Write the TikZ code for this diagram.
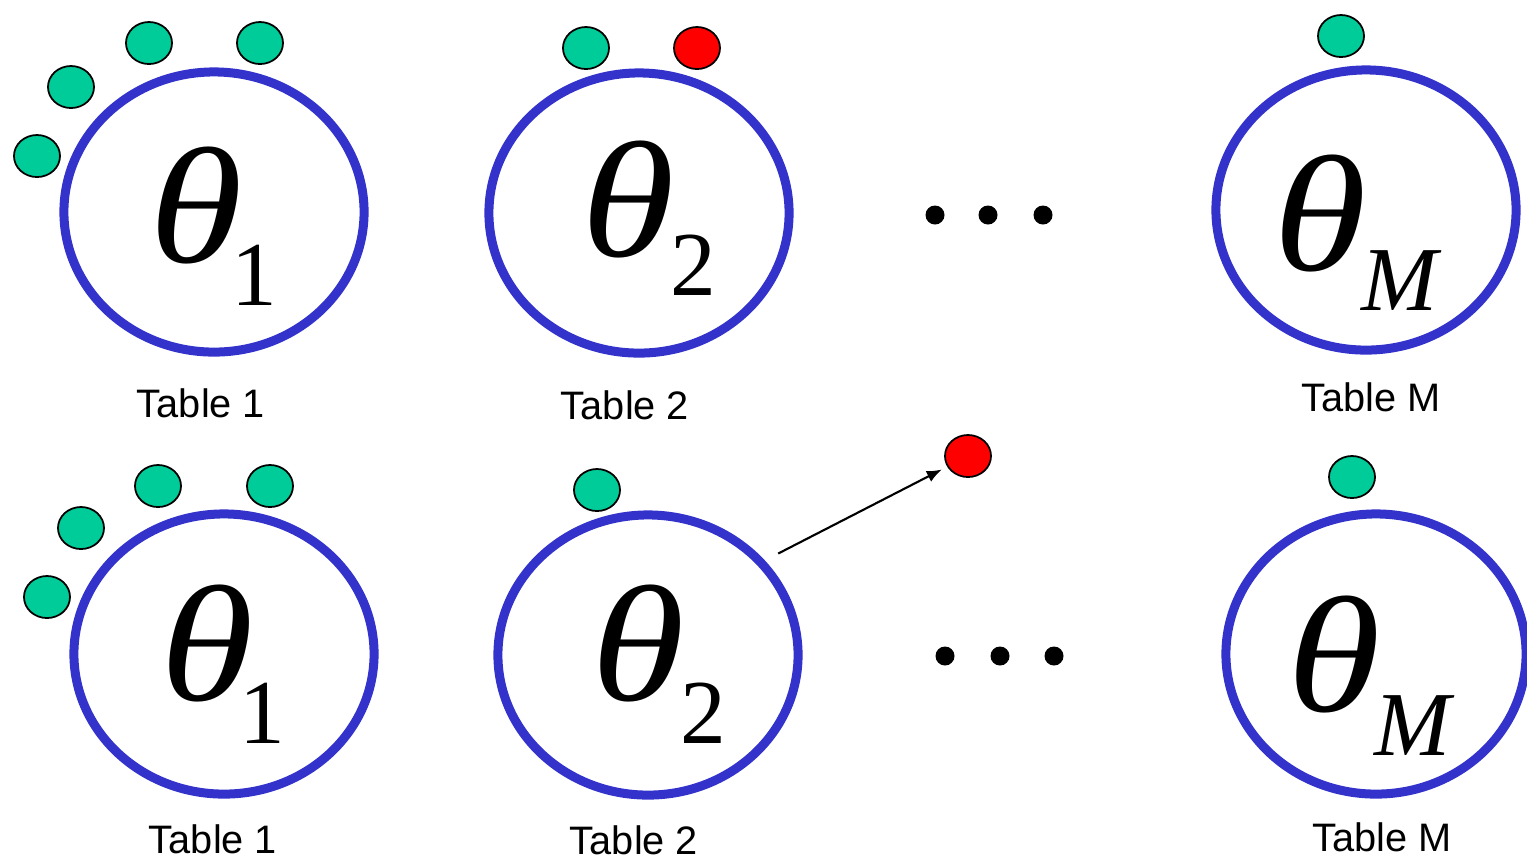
\documentclass[tikz,border=0pt]{standalone}
\usepackage{graphicx}
\usepackage{fontspec}
\setmainfont{Liberation Serif}
\newfontfamily\labfont{Liberation Sans}
\usetikzlibrary{shapes.geometric,arrows.meta}
\definecolor{tblue}{RGB}{51,51,204}
\definecolor{tgreen}{RGB}{0,204,153}
\definecolor{tred}{RGB}{255,0,0}
\newcommand{\wth}{\scalebox{1.15}[1]{θ}}
\tikzset{
  tab/.style={ellipse, draw=tblue, line width=0.09cm, minimum width=3.0cm, minimum height=2.8cm, inner sep=0},
  gdot/.style={ellipse, draw=black, line width=0.5pt, fill=tgreen, minimum width=0.46cm, minimum height=0.42cm, inner sep=0},
  rdot/.style={gdot, fill=tred},
  bdot/.style={circle, fill=black, minimum size=0.19cm, inner sep=0},
  th/.style={inner sep=0, anchor=base, text depth=0pt, font=\fontsize{47}{47}\selectfont\itshape},
  subr/.style={inner sep=0, anchor=base, text depth=0pt, font=\fontsize{26}{26}\selectfont},
  subi/.style={subr, font=\fontsize{26}{26}\selectfont\itshape},
  lab/.style={inner sep=0, anchor=base, text depth=0pt, font=\labfont\fontsize{11.3}{11.3}\selectfont},
  arr/.style={-{Latex[length=0.15cm,width=0.12cm]}, line width=0.6pt, shorten >=0.06cm, shorten <=0.15cm}
}
\begin{document}
\begin{tikzpicture}[x=0.01cm, y=-0.01cm]
\useasboundingbox (0,0) rectangle (1527,859);
% top row
\node[tab] (e1) at (214,212) {};
\node[tab] (e2) at (639,213) {};
\node[tab] (e3) at (1366,210) {};
% bottom row
\node[tab] (e4) at (224,654) {};
\node[tab] (e5) at (648,655) {};
\node[tab] (e6) at (1376,654) {};
% thetas top
\node[th] (t1) at (196,262) {\wth};
\node[subr] (s1) at (254,305) {1};
\node[th] (t2) at (628,256) {\wth};
\node[subr] (s2) at (693,295) {2};
\node[th] (t3) at (1320,270) {\wth};
\node[subi] (s3) at (1400,310) {M};
% thetas bottom
\node[th] (t4) at (207,700) {\wth};
\node[subr] (s4) at (262,743) {1};
\node[th] (t5) at (638,700) {\wth};
\node[subr] (s5) at (703,743) {2};
\node[th] (t6) at (1334,711) {\wth};
\node[subi] (s6) at (1413,755) {M};
% labels
\node[lab] (l1) at (201,417) {Table 1};
\node[lab] (l2) at (625,419) {Table 2};
\node[lab] (l3) at (1371,411) {Table M};
\node[lab] (l4) at (213,853) {Table 1};
\node[lab] (l5) at (634,854) {Table 2};
\node[lab] (l6) at (1382,851) {Table M};
% ellipsis dots
\node[bdot] (d1) at (935,215) {};
\node[bdot] (d2) at (988,215) {};
\node[bdot] (d3) at (1043,215) {};
\node[bdot] (d4) at (945,656) {};
\node[bdot] (d5) at (1000,656) {};
\node[bdot] (d6) at (1054,656) {};
% customers top
\node[gdot] (a1) at (37,156) {};
\node[gdot] (a2) at (71,87) {};
\node[gdot] (a3) at (149,43) {};
\node[gdot] (a4) at (260,43) {};
\node[gdot] (a5) at (586,48) {};
\node[rdot] (a6) at (697,48) {};
\node[gdot] (a7) at (1341,36) {};
% customers bottom
\node[gdot] (b1) at (47,597) {};
\node[gdot] (b2) at (81,528) {};
\node[gdot] (b3) at (158,486) {};
\node[gdot] (b4) at (270,486) {};
\node[gdot] (b5) at (597,490) {};
\node[rdot] (r2) at (968,456) {};
\node[gdot] (b7) at (1352,477) {};
% arrow
\draw[arr] (e5.39) -- (r2);
\end{tikzpicture}
\end{document}
